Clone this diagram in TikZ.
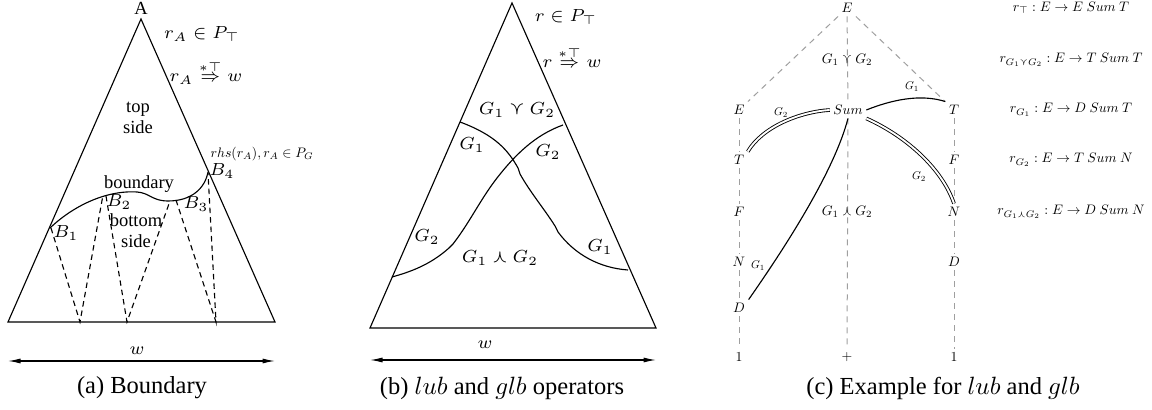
\documentclass[tikz,border=0pt]{standalone}
\usepackage{amsmath,amssymb}
\usepackage{fontspec}
\setmainfont{Liberation Serif}
\usetikzlibrary{arrows.meta,positioning}

\newcommand{\shr}[1]{\scalebox{0.55}{#1}}
\newcommand{\shrt}[1]{\scalebox{0.45}{#1}}

\tikzset{
  edge/.style={line width=0.45pt},
  cut/.style={line width=0.45pt,dash pattern=on 2.2pt off 1.6pt},
  treeline/.style={gray!75,line width=0.4pt,dash pattern=on 2.4pt off 2pt},
  dbl/.style={double,double distance=0.75pt,line width=0.35pt},
  lbl/.style={inner sep=1pt,font=\fontsize{7.4}{8.4}\selectfont},
  sym/.style={inner sep=1.3pt},
  capt/.style={font=\fontsize{9.8}{11}\selectfont},
  dimarrow/.style={line width=0.45pt,{Latex[length=5pt,width=2pt]}-{Latex[length=5pt,width=2pt]}},
}

\begin{document}
\begin{tikzpicture}[x=0.4pt,y=-0.4pt]
\useasboundingbox (0,0) rectangle (1152,410);

% (a) Boundary
\draw[edge] (141,19) -- (8,322) -- (275,322) -- cycle;
\node[lbl] (apexA) at (141,8) {A};
\node[lbl] (rinA) at (202,34) {$r_A \in P_\top$};
\node[lbl] (rderA) at (206,72) {$r_A \overset{*\top}{\Rightarrow} w$};
\node[lbl,align=center] (topside) at (138,118) {top\\side};
\node[sym] (rhsA) at (262,154) {\shr{$rhs(r_A), r_A \in P_G$}};
\draw[edge] (50,228) .. controls (72,207) and (105,190) .. (137,192)
  .. controls (150,193) and (152,201) .. (168,201)
  .. controls (192,201) and (205,188) .. (208,172);
\draw[cut] (51,228) -- (80,322) -- (103,195);
\draw[cut] (106,196) -- (127,322) -- (170,201);
\draw[cut] (176,200) -- (216,322) -- (208,173);
\node[lbl] (bnd) at (139,184) {boundary};
\node[lbl,align=center] (botside) at (136,231) {bottom\\side};
\node[lbl] (bone) at (66,233) {$B_1$};
\node[lbl] (btwo) at (119,202) {$B_2$};
\node[lbl] (bthree) at (196,204) {$B_3$};
\node[lbl] (bfour) at (222,171) {$B_4$};
\coordinate (wAl) at (8,361);
\coordinate (wAr) at (275,361);
\draw[dimarrow] (wAl) -- (wAr);
\node[lbl] (wA) at (137,351) {$w$};
\node[capt] (capA) at (142,388) {(a) Boundary};

% (b) lub and glb
\draw[edge] (512,3) -- (370,328) -- (656,328) -- cycle;
\node[lbl] (rinB) at (566,17) {$r \in P_\top$};
\node[lbl] (rderB) at (572,57) {$r \overset{*\top}{\Rightarrow} w$};
\node[lbl] (lubB) at (517,110) {$G_1 \curlyvee G_2$};
\draw[edge] (460,122) .. controls (495,135) and (508,150) .. (518,168) -- (520,174)
  .. controls (530,192) and (545,210) .. (555,226) -- (558,232)
  .. controls (575,255) and (600,268) .. (628,270);
\draw[edge] (563,125) .. controls (535,135) and (515,155) .. (497,178)
  .. controls (480,200) and (470,222) .. (453,244) -- (449,248)
  .. controls (430,265) and (410,272) .. (392,277);
\node[lbl] (gonea) at (472,145) {$G_1$};
\node[lbl] (gtwoa) at (548,152) {$G_2$};
\node[lbl] (gtwob) at (427,237) {$G_2$};
\node[lbl] (goneb) at (600,247) {$G_1$};
\node[lbl] (glbB) at (500,258) {$G_1 \curlywedge G_2$};
\coordinate (wBl) at (370,360);
\coordinate (wBr) at (656,360);
\draw[dimarrow] (wBl) -- (wBr);
\node[lbl] (wB) at (485,345) {$w$};
\node[capt] (capB) at (502,388) {(b) $lub$ and $glb$ operators};

% (c) Example
\node[sym] (etop) at (847,8) {\shr{$E$}};
\node[sym] (sum) at (848,110) {\shr{$Sum$}};
\node[sym] (plus) at (847,357) {\shr{$+$}};
\node[sym] (eone) at (739,110) {\shr{$E$}};
\node[sym] (tone) at (739,160) {\shr{$T$}};
\node[sym] (fone) at (739,212) {\shr{$F$}};
\node[sym] (none) at (739,262) {\shr{$N$}};
\node[sym] (done) at (739,308) {\shr{$D$}};
\node[sym] (oneone) at (739,357) {\shr{$1$}};
\node[sym] (ttwo) at (954,110) {\shr{$T$}};
\node[sym] (ftwo) at (954,160) {\shr{$F$}};
\node[sym] (ntwo) at (954,212) {\shr{$N$}};
\node[sym] (dtwo) at (954,262) {\shr{$D$}};
\node[sym] (onetwo) at (954,357) {\shr{$1$}};
\draw[treeline] (etop) -- (eone) (etop) -- (ttwo) (etop) -- (sum) -- (plus);
\draw[treeline] (eone) -- (tone) -- (fone) -- (none) -- (done) -- (oneone);
\draw[treeline] (ttwo) -- (ftwo) -- (ntwo) -- (dtwo) -- (onetwo);
\node[sym] (lubC) at (847,60) {\shr{$G_1 \curlyvee G_2$}};
\node[sym] (glbC) at (847,212) {\shr{$G_1 \curlywedge G_2$}};
\draw[edge] (sum.east) .. controls +(25,-10) and +(-25,-8) .. (ttwo.north west);
\draw[dbl] (sum.west) .. controls +(-30,2) and +(15,-25) .. (tone.north east);
\draw[dbl] (sum.south east) .. controls +(40,18) and +(-12,-35) .. (ntwo.north);
\draw[edge] (sum.south) .. controls +(-15,57) and +(30,-43) .. (done.north east);
\node[sym] (gonec) at (912,87) {\shrt{$G_1$}};
\node[sym] (gtwoc) at (781,113) {\shrt{$G_2$}};
\node[sym] (gtwod) at (919,177) {\shrt{$G_2$}};
\node[sym] (goned) at (758,266) {\shrt{$G_1$}};
\node[sym] (rtop) at (1071,8) {\shr{$r_\top : E \to E\ Sum\ T$}};
\node[sym] (rlub) at (1071,60) {\shr{$r_{G_1 \curlyvee G_2} : E \to T\ Sum\ T$}};
\node[sym] (rgone) at (1071,110) {\shr{$r_{G_1} : E \to D\ Sum\ T$}};
\node[sym] (rgtwo) at (1071,160) {\shr{$r_{G_2} : E \to T\ Sum\ N$}};
\node[sym] (rglb) at (1071,212) {\shr{$r_{G_1 \curlywedge G_2} : E \to D\ Sum\ N$}};
\node[capt] (capC) at (943,388) {(c) Example for $lub$ and $glb$};
\end{tikzpicture}
\end{document}
